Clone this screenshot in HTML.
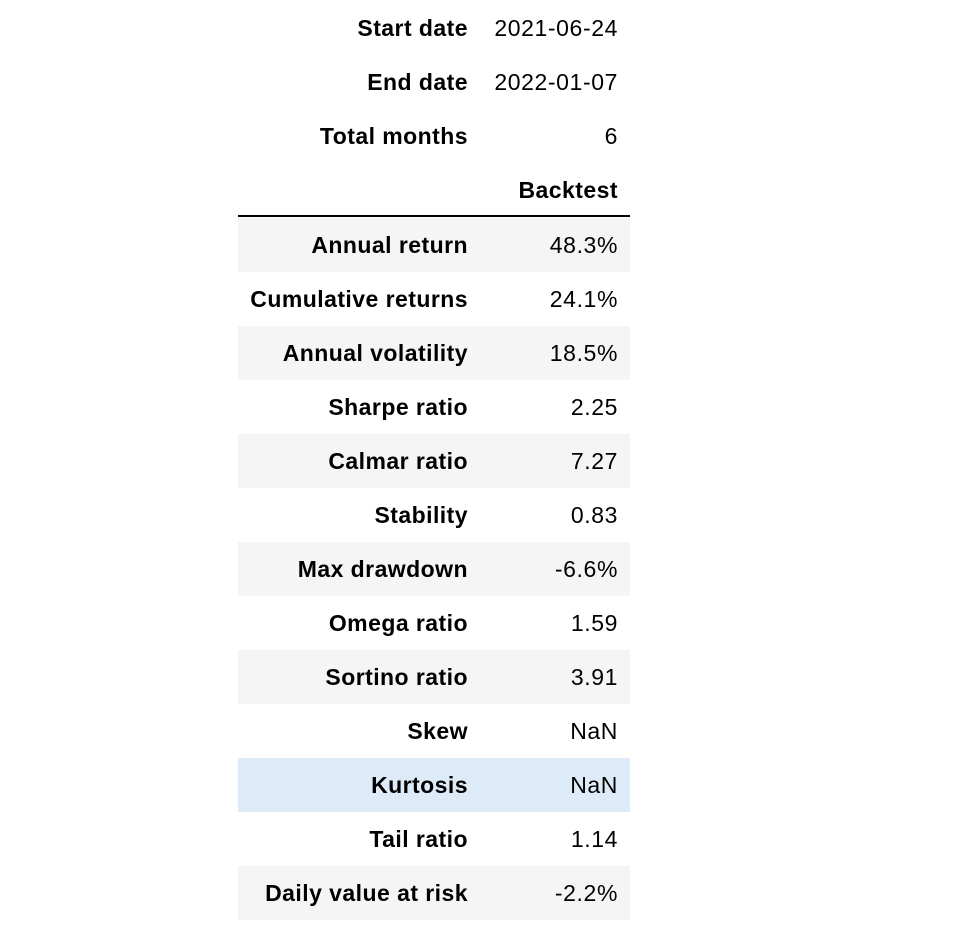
<!DOCTYPE html>
<html><head><meta charset="utf-8"><style>
html,body{margin:0;padding:0;background:#fff;width:966px;height:948px;overflow:hidden}
body{font-family:"Liberation Sans",Arial,sans-serif;font-size:23px;letter-spacing:0.45px;color:#000;position:relative}
.row{position:absolute;left:238px;width:392px;height:54px}
.row .l{position:absolute;right:162px;top:0px;line-height:54px;font-weight:bold;white-space:nowrap}
.row .v{position:absolute;right:12px;top:0px;line-height:54px;white-space:nowrap;letter-spacing:0.6px}
.g{background:#f5f5f5}
.b{background:#ddebf9}
.rule{position:absolute;left:238px;width:392px;top:215px;height:2px;background:#000}
</style></head><body>
<div class="row" style="top:1px"><span class="l">Start date</span><span class="v">2021-06-24</span></div>
<div class="row" style="top:55px"><span class="l">End date</span><span class="v">2022-01-07</span></div>
<div class="row" style="top:109px"><span class="l">Total months</span><span class="v">6</span></div>
<div class="row" style="top:163px"><span class="v" style="font-weight:bold;letter-spacing:0.45px">Backtest</span></div>
<div class="rule"></div>
<div class="row g" style="top:218px"><span class="l">Annual return</span><span class="v">48.3%</span></div>
<div class="row" style="top:272px"><span class="l">Cumulative returns</span><span class="v">24.1%</span></div>
<div class="row g" style="top:326px"><span class="l">Annual volatility</span><span class="v">18.5%</span></div>
<div class="row" style="top:380px"><span class="l">Sharpe ratio</span><span class="v">2.25</span></div>
<div class="row g" style="top:434px"><span class="l">Calmar ratio</span><span class="v">7.27</span></div>
<div class="row" style="top:488px"><span class="l">Stability</span><span class="v">0.83</span></div>
<div class="row g" style="top:542px"><span class="l">Max drawdown</span><span class="v">-6.6%</span></div>
<div class="row" style="top:596px"><span class="l">Omega ratio</span><span class="v">1.59</span></div>
<div class="row g" style="top:650px"><span class="l">Sortino ratio</span><span class="v">3.91</span></div>
<div class="row" style="top:704px"><span class="l">Skew</span><span class="v">NaN</span></div>
<div class="row b" style="top:758px"><span class="l">Kurtosis</span><span class="v">NaN</span></div>
<div class="row" style="top:812px"><span class="l">Tail ratio</span><span class="v">1.14</span></div>
<div class="row g" style="top:866px"><span class="l">Daily value at risk</span><span class="v">-2.2%</span></div>
</body></html>
